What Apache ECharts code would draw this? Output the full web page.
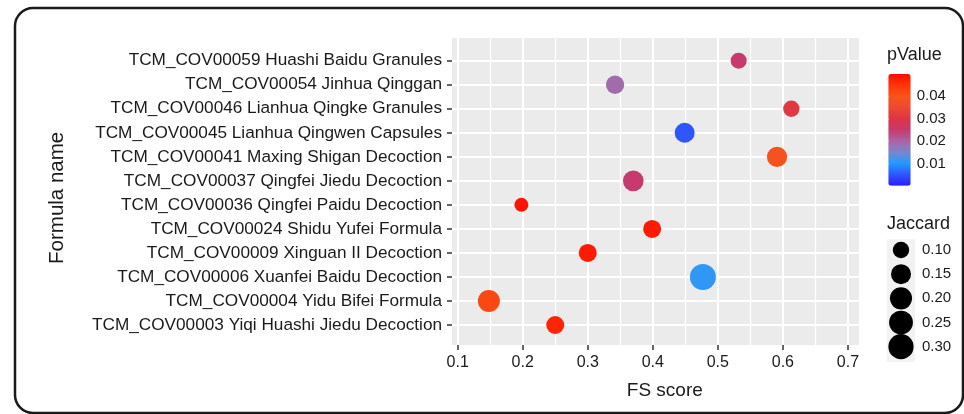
<!DOCTYPE html>
<html>
<head>
<meta charset="utf-8">
<script src="https://cdn.jsdelivr.net/npm/echarts@6/dist/echarts.min.js"></script>
<style>
  html, body { margin: 0; padding: 0; background: #fff; }
  #chart { width: 964px; height: 414px; }
</style>
</head>
<body>
<div id="chart"></div>
<script>
var formulas = [
  'TCM_COV00059 Huashi Baidu Granules',
  'TCM_COV00054 Jinhua Qinggan',
  'TCM_COV00046 Lianhua Qingke Granules',
  'TCM_COV00045 Lianhua Qingwen Capsules',
  'TCM_COV00041 Maxing Shigan Decoction',
  'TCM_COV00037 Qingfei Jiedu Decoction',
  'TCM_COV00036 Qingfei Paidu Decoction',
  'TCM_COV00024 Shidu Yufei Formula',
  'TCM_COV00009 Xinguan II Decoction',
  'TCM_COV00006 Xuanfei Baidu Decoction',
  'TCM_COV00004 Yidu Bifei Formula',
  'TCM_COV00003 Yiqi Huashi Jiedu Decoction'
];
var fsScore = [0.532, 0.342, 0.613, 0.449, 0.591, 0.370, 0.198, 0.399, 0.300, 0.477, 0.148, 0.250];
var pValue  = [0.025, 0.019, 0.031, 0.005, 0.039, 0.025, 0.049, 0.048, 0.048, 0.011, 0.042, 0.047];
var jaccard = [0.097, 0.121, 0.099, 0.150, 0.156, 0.165, 0.090, 0.117, 0.117, 0.330, 0.197, 0.117];

var pTicks = [0.01, 0.02, 0.03, 0.04];
var jaccardKeys = ['0.10', '0.15', '0.20', '0.25', '0.30'];
var jaccardKeyValues = [0.10, 0.15, 0.20, 0.25, 0.30];

// gradient for pValue, 0 -> 0.05
var pColors = ['#2b1cff', '#2f55ff', '#1f9bff', '#7b86cc', '#aa64a4', '#c63a6e',
  '#de3445', '#ec4a32', '#f8541a', '#ff3508', '#ff0a00'];

// area-like size scale, diameter in px
function dotSize (j) {
  return 14 + 12 * Math.sqrt(Math.max(0, j - 0.09) / 0.24);
}

var font = '"Liberation Sans", Arial, sans-serif';
var ink = '#1a1a1a';

var points = formulas.map(function (f, i) {
  return [fsScore[i], f, pValue[i], jaccard[i]];
});
var keys = jaccardKeys.map(function (k, i) {
  return [0.5, k, jaccardKeyValues[i]];
});

var chart = echarts.init(document.getElementById('chart'));
chart.setOption({
  animation: false,
  textStyle: { fontFamily: font },
  graphic: [
    {
      type: 'rect', z: -1, silent: true,
      shape: { x: 452, y: 38, width: 407, height: 307 },
      style: { fill: '#ebebeb' }
    },
    {
      type: 'rect', z: -1, silent: true,
      shape: { x: 886.7, y: 239.3, width: 28.3, height: 122.4 },
      style: { fill: '#f2f2f2' }
    },
    {
      type: 'rect', silent: true,
      shape: { x: 15, y: 8, width: 948, height: 405, r: 18 },
      style: { fill: 'none', stroke: ink, lineWidth: 2.5 }
    },
    {
      type: 'text', x: 887, y: 55,
      style: { text: 'pValue', fontSize: 18, fontFamily: font, fill: ink, verticalAlign: 'middle' }
    },
    {
      type: 'text', x: 887, y: 224,
      style: { text: 'Jaccard', fontSize: 18, fontFamily: font, fill: ink, verticalAlign: 'middle' }
    }
  ],
  grid: [
    { left: 452, top: 60.7, width: 407, height: 264.3 },
    { left: 457.66, top: 38, width: 390.28, height: 307 },
    { left: 888.3, top: 74, width: 22.4, height: 111.7 },
    { left: 887, top: 250, width: 28, height: 96.7 }
  ],
  xAxis: [
    { gridIndex: 0, type: 'value', min: 0.0913, max: 0.717, show: false },
    {
      gridIndex: 1, type: 'value', min: 0.1, max: 0.7, interval: 0.1,
      axisLine: { show: false },
      axisTick: { show: true, length: 5, lineStyle: { color: '#333', width: 1.5 } },
      axisLabel: { fontSize: 16, color: ink, margin: 10 },
      splitLine: { show: true, lineStyle: { color: '#fff', width: 2 } },
      minorTick: { show: false, splitNumber: 2 },
      minorSplitLine: { show: true, lineStyle: { color: '#fff', width: 1.2 } },
      name: 'FS score', nameLocation: 'middle', nameGap: 36,
      nameTextStyle: { fontSize: 19, color: ink, padding: [0, 0, 0, 24] }
    },
    { gridIndex: 2, type: 'value', min: 0, max: 1, show: false },
    { gridIndex: 3, type: 'value', min: 0, max: 1, show: false }
  ],
  yAxis: [
    {
      gridIndex: 0, type: 'category', data: formulas, inverse: true, boundaryGap: false,
      axisLine: { show: false },
      axisTick: { show: true, length: 5, interval: 0, lineStyle: { color: '#333', width: 1.5 } },
      axisLabel: { fontSize: 17.2, color: ink, margin: 10, interval: 0 },
      splitLine: { show: true, interval: 0, lineStyle: { color: '#fff', width: 2 } },
      name: 'Formula name', nameLocation: 'middle', nameRotate: 90, nameGap: 384,
      nameTextStyle: { fontSize: 20.5, color: ink, padding: [0, 10, 0, 0] }
    },
    { gridIndex: 1, type: 'value', min: 0, max: 1, show: false },
    {
      gridIndex: 2, type: 'value', min: 0, max: 0.05, interval: 0.01, position: 'right', z: 10,
      axisLine: { show: false },
      axisTick: { show: true, inside: true, length: 5, customValues: pTicks, lineStyle: { color: '#fff', width: 1.5 } },
      axisLabel: {
        fontSize: 15, color: ink, margin: 6, customValues: pTicks,
        formatter: function (v) { return v.toFixed(2); }
      },
      splitLine: { show: false }
    },
    {
      gridIndex: 3, type: 'category', data: jaccardKeys, inverse: true, boundaryGap: false,
      position: 'right',
      axisLine: { show: false },
      axisTick: { show: false },
      axisLabel: { fontSize: 15, color: ink, margin: 7, interval: 0 },
      splitLine: { show: false }
    }
  ],
  visualMap: {
    type: 'continuous', seriesIndex: 0, dimension: 2,
    min: 0, max: 0.05, calculable: false, hoverLink: false,
    left: 888.3, top: 74, itemWidth: 22.4, itemHeight: 111.7, padding: 0,
    inRange: { color: pColors }
  },
  series: [
    {
      type: 'scatter', xAxisIndex: 0, yAxisIndex: 0,
      data: points,
      encode: { x: 0, y: 1 },
      symbolSize: function (v) { return dotSize(v[3]); },
      itemStyle: { opacity: 1 }
    },
    {
      type: 'scatter', xAxisIndex: 3, yAxisIndex: 3,
      data: keys,
      encode: { x: 0, y: 1 },
      symbolSize: function (v) { return dotSize(v[2]); },
      itemStyle: { color: '#000', opacity: 1 }
    }
  ]
});
</script>
</body>
</html>
